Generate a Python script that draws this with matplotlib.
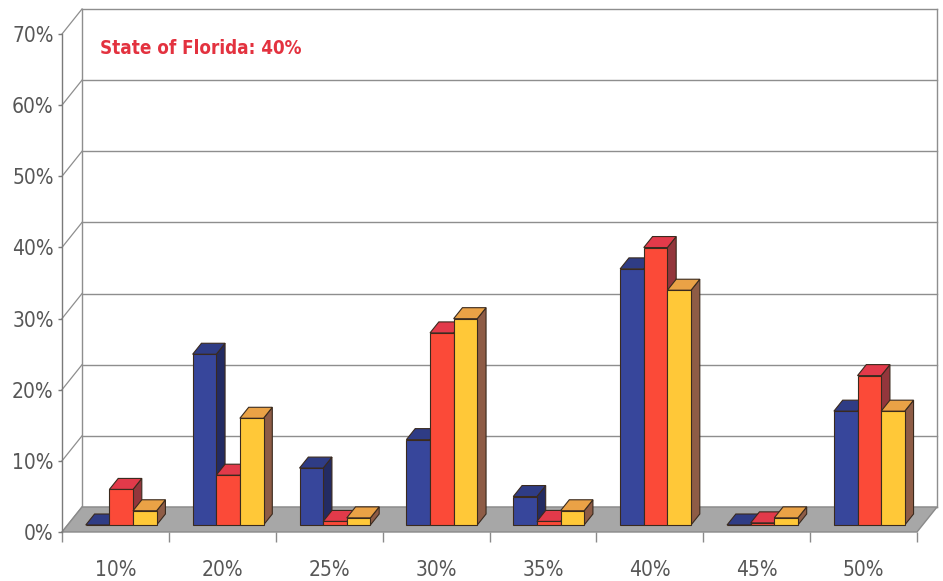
import matplotlib
matplotlib.use("Agg")
import matplotlib.pyplot as plt
from matplotlib.patches import Polygon

# ---- data ----
categories = ["10%", "20%", "25%", "30%", "35%", "40%", "45%", "50%"]
series_blue = [0, 24, 8, 12, 4, 36, 0, 16]
series_red = [5, 7, 0.5, 27, 0.5, 39, 0.3, 21]
series_yellow = [2, 15, 1, 29, 2, 33, 1, 16]
y_ticks = [0, 10, 20, 30, 40, 50, 60, 70]
title_text = "State of Florida: 40%"

# ---- styling ----
plt.rcParams["font.family"] = ["DejaVu Sans"]
plt.rcParams["font.stretch"] = "condensed"

faces = [  # front, top, side
    ("#37469b", "#2f3c85", "#232b62"),
    ("#fb4a38", "#e23a4a", "#93363c"),
    ("#ffc838", "#eaa246", "#8e5c46"),
]
EDGE = "#3a2a1e"
GRID = "#8e8e8e"

# oblique depth of the 3d box, in data units (x: categories, y: percent)
DX = 20 / 106.875
DY = 25 / 7.114
D0, DD = 0.28, 0.44      # bar front depth, bar depth
W = 0.221                # bar width
GROUP_LEFT = 0.17

fig = plt.figure(figsize=(9.43, 5.81), dpi=100)
ax = fig.add_axes([62 / 943, 49 / 581, 855 / 943, 498 / 581])
ax.set_facecolor("none")
ax.set_xlim(0, len(categories))
ax.set_ylim(0, 70)

n = len(categories)
ymax = y_ticks[-1]

# back wall + left wall grid
for v in y_ticks:
    ax.plot([DX, n + DX], [v + DY, v + DY], color=GRID, lw=1, clip_on=False, zorder=1)
    ax.plot([0, DX], [v, v + DY], color=GRID, lw=0.9, clip_on=False, zorder=1)
ax.plot([DX, DX], [DY, ymax + DY], color=GRID, lw=1, clip_on=False, zorder=1)
ax.plot([n + DX, n + DX], [DY, ymax + DY], color=GRID, lw=1, clip_on=False, zorder=1)

# floor
floor = Polygon([(0, 0), (n, 0), (n + DX, DY), (DX, DY)], closed=True,
                facecolor="#a7a7a7", edgecolor="#8a8a8a", lw=1, clip_on=False, zorder=2)
ax.add_patch(floor)

# bars: side, top, then front so the next bar hides this one's side
z = 3
for i in range(n):
    for j, vals in enumerate([series_blue, series_red, series_yellow]):
        v = vals[i]
        front, top, side = faces[j]
        xl = i + GROUP_LEFT + j * W + D0 * DX
        yb = D0 * DY
        yt = yb + v
        sx, sy = DD * DX, DD * DY
        ax.add_patch(Polygon([(xl + W, yb), (xl + W, yt), (xl + W + sx, yt + sy), (xl + W + sx, yb + sy)],
                             closed=True, facecolor=side, edgecolor=EDGE, lw=0.8, clip_on=False, zorder=z))
        ax.add_patch(Polygon([(xl, yt), (xl + W, yt), (xl + W + sx, yt + sy), (xl + sx, yt + sy)],
                             closed=True, facecolor=top, edgecolor=EDGE, lw=0.8, clip_on=False, zorder=z))
        ax.bar(xl, v, width=W, bottom=yb, align="edge", color=front, edgecolor=EDGE,
               lw=0.8, clip_on=False, zorder=z)
        z += 1

# axes / ticks
for s in ["top", "right", "bottom"]:
    ax.spines[s].set_visible(False)
ax.spines["left"].set_color("#7a7a7a")
ax.spines["left"].set_linewidth(1)

ax.set_yticks(y_ticks)
ax.set_yticklabels([f"{v}%" for v in y_ticks])
ax.tick_params(axis="y", length=3, width=1, color="#7a7a7a", pad=3,
               labelsize=15, labelcolor="#575757")

ax.set_xticks([i + 0.5 for i in range(n)])
ax.set_xticklabels(categories)
ax.set_xticks(list(range(n + 1)), minor=True)
ax.tick_params(axis="x", which="major", length=0, pad=20, labelsize=15, labelcolor="#575757")
ax.tick_params(axis="x", which="minor", length=7, width=1, color="#8a8a8a")

fig.text(100 / 943, 1 - 48 / 581, title_text, color="#e3323f", fontsize=13.5,
         fontweight="bold", va="center", ha="left")

fig.savefig("out.png", dpi=100, facecolor="white")
